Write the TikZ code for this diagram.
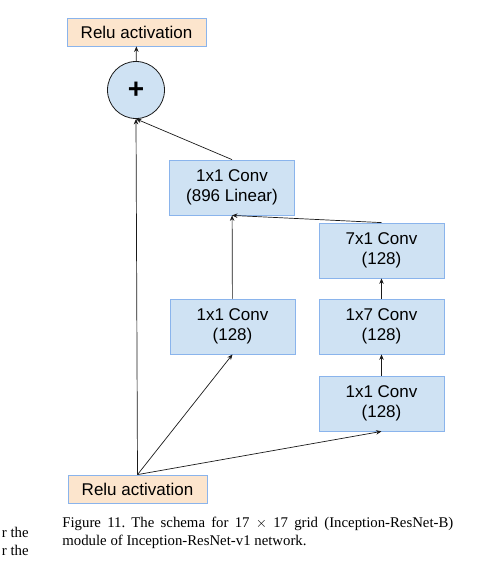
\documentclass[tikz,border=0pt]{standalone}
\usepackage{fontspec}
\setmainfont{Liberation Serif}
\setsansfont{Liberation Sans}
\usetikzlibrary{arrows.meta, positioning, shapes.geometric}
\definecolor{cblue}{HTML}{CFE2F3}
\definecolor{corange}{HTML}{FCE5CD}
\definecolor{cedge}{HTML}{8AB4EC}
\definecolor{cline}{HTML}{1A1A1A}
\tikzset{
  every picture/.style={line width=0.8pt},
  conv/.style={draw=cedge, fill=cblue, align=center, minimum width=125pt, minimum height=55pt, inner sep=0pt,
    font=\sffamily\fontsize{17}{20}\selectfont},
  relu/.style={draw=cedge, fill=corange, minimum width=139pt, minimum height=28pt, inner sep=0pt,
    font=\sffamily\fontsize{17}{20}\selectfont},
  sumnode/.style={circle, draw=cline, fill=cblue, minimum size=57pt, inner sep=0pt,
    font=\sffamily\bfseries\fontsize{28}{28}\selectfont},
  arrow/.style={-{Stealth[length=5.5pt, width=4.5pt]}, draw=cline, line width=0.7pt},
  caption/.style={font=\rmfamily\fontsize{14.8}{18.5}\selectfont, inner sep=0pt},
}

\begin{document}
\frenchspacing
\begin{tikzpicture}[x=1pt, y=-1pt]
  \useasboundingbox (0,0) rectangle (495,566);
  \node[relu] (reluout) at (136.5,32) {Relu activation};
  \node[sumnode] (add) at (136,90) {+};
  \node[conv] (cout) at (232,187.5) {1x1 Conv\\(896 Linear)};
  \node[conv] (c7x1) at (381.5,250.5) {7x1 Conv\\(128)};
  \node[conv] (c1a) at (232.5,326.5) {1x1 Conv\\(128)};
  \node[conv] (c1x7) at (381.5,326.5) {1x7 Conv\\(128)};
  \node[conv] (c1b) at (381.5,403.5) {1x1 Conv\\(128)};
  \node[relu] (reluin) at (137.5,489) {Relu activation};
  \draw[arrow] (reluin.north) -- (add.south);
  \draw[arrow] (reluin.north) -- (c1a.south);
  \draw[arrow] (reluin.north) -- (c1b.south);
  \draw[arrow] (c1b) -- (c1x7);
  \draw[arrow] (c1x7) -- (c7x1);
  \draw[arrow] (c1a) -- (cout);
  \draw[arrow] (c7x1.north) -- (cout.south);
  \draw[arrow] (cout.north) -- (add.south);
  \draw[arrow] (add) -- (reluout);
  % caption and cut-off text of the next column
  \node[caption, anchor=base west, text width=391pt, align=justify] (cap) at (62,527)
    {Figure 11. The schema for 17 $\times$ 17 grid (Inception-ResNet-B)\linebreak module of Inception-ResNet-v1 network.};
  \node[caption, anchor=base west] (frag1) at (1.5,537) {r the};
  \node[caption, anchor=base west] (frag2) at (1.5,555) {r the};
\end{tikzpicture}
\end{document}
